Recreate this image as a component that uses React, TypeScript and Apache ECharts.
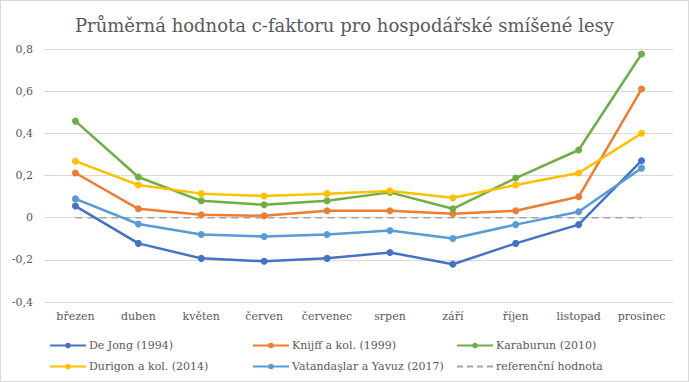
import React, { useEffect, useRef } from "react";
import * as echarts from "echarts";

const categories = ["březen", "duben", "květen", "červen", "červenec", "srpen", "září", "říjen", "listopad", "prosinec"];
const deJong = [0.055, -0.122, -0.193, -0.207, -0.193, -0.165, -0.221, -0.122, -0.033, 0.27];
const knijff = [0.212, 0.042, 0.014, 0.009, 0.033, 0.033, 0.019, 0.033, 0.099, 0.61];
const karaburun = [0.458, 0.193, 0.08, 0.061, 0.08, 0.12, 0.042, 0.188, 0.321, 0.776];
const durigon = [0.268, 0.155, 0.114, 0.103, 0.114, 0.127, 0.094, 0.155, 0.212, 0.4];
const vatandaslar = [0.089, -0.03, -0.08, -0.089, -0.08, -0.061, -0.099, -0.033, 0.028, 0.235];
const reference = [0, 0, 0, 0, 0, 0, 0, 0, 0, 0];

const names = [
  "De Jong (1994)",
  "Knijff a kol. (1999)",
  "Karaburun (2010)",
  "Durigon a kol. (2014)",
  "Vatandaşlar a Yavuz (2017)",
  "referenční hodnota",
];
const colors = ["#4472C4", "#ED7D31", "#70AD47", "#FFC000", "#5B9BD5", "#A5A5A5"];

const FONT = "DejaVu Serif";

export default function App() {
  const ref = useRef<HTMLDivElement>(null);
  useEffect(() => {
    document.body.style.margin = "0";
    if (!ref.current) return;
    const chart = echarts.init(ref.current, null, { renderer: "svg" });
    const values = [deJong, knijff, karaburun, durigon, vatandaslar];
    const lineSeries: any[] = values.map((d, i) => ({
      name: names[i],
      type: "line",
      data: d,
      symbol: "circle",
      symbolSize: 7,
      lineStyle: { width: 2.5, color: colors[i] },
      itemStyle: { color: colors[i] },
      z: 3 + i,
    }));
    lineSeries.splice(0, 0, {
      name: names[5],
      type: "line",
      data: reference,
      symbol: "none",
      lineStyle: { width: 1.5, color: colors[5], type: [7, 5] },
      itemStyle: { color: colors[5] },
      z: 2,
    });
    const legendCommon = {
      orient: "vertical",
      top: 334,
      itemWidth: 36,
      itemHeight: 7,
      itemGap: 10,
      textStyle: { fontFamily: FONT, fontSize: 11, color: "#595959", padding: [0, 0, 0, -2] },
    };
    chart.setOption({
      animation: false,
      title: {
        text: "Průměrná hodnota c-faktoru pro hospodářské smíšené lesy",
        left: "center",
        top: 10,
        textStyle: { fontFamily: FONT, fontSize: 18, fontWeight: "normal", color: "#595959" },
      },
      grid: { left: 43, right: 15, top: 48, bottom: 79 },
      legend: [
        { ...legendCommon, left: 43, data: [names[0], names[3]] },
        { ...legendCommon, left: 246, data: [names[1], names[4]] },
        {
          ...legendCommon,
          left: 450,
          data: [names[2], { name: names[5], itemStyle: { opacity: 0 }, lineStyle: { type: [6, 4] } }],
        },
      ],
      xAxis: {
        type: "category",
        data: categories,
        boundaryGap: true,
        axisLine: { show: false },
        axisTick: { show: false },
        axisLabel: { fontFamily: FONT, fontSize: 11, color: "#595959", margin: 9, interval: 0 },
      },
      yAxis: {
        type: "value",
        min: -0.4,
        max: 0.8,
        interval: 0.2,
        axisLine: { show: false },
        axisTick: { show: false },
        splitLine: { lineStyle: { color: "#D9D9D9", width: 1 } },
        axisLabel: {
          fontFamily: FONT,
          fontSize: 11,
          color: "#595959",
          margin: 11,
          formatter: (v: number) => (Math.abs(v) < 1e-9 ? "0" : v.toFixed(1).replace(".", ",")),
        },
      },
      series: lineSeries,
    });
    return () => chart.dispose();
  }, []);
  return (
    <div
      style={{
        position: "absolute",
        left: 0,
        top: 0,
        width: 689,
        height: 382,
        boxSizing: "border-box",
        border: "1px solid #D9D9D9",
        background: "#fff",
      }}
    >
      <div ref={ref} style={{ width: 687, height: 380 }} />
    </div>
  );
}
